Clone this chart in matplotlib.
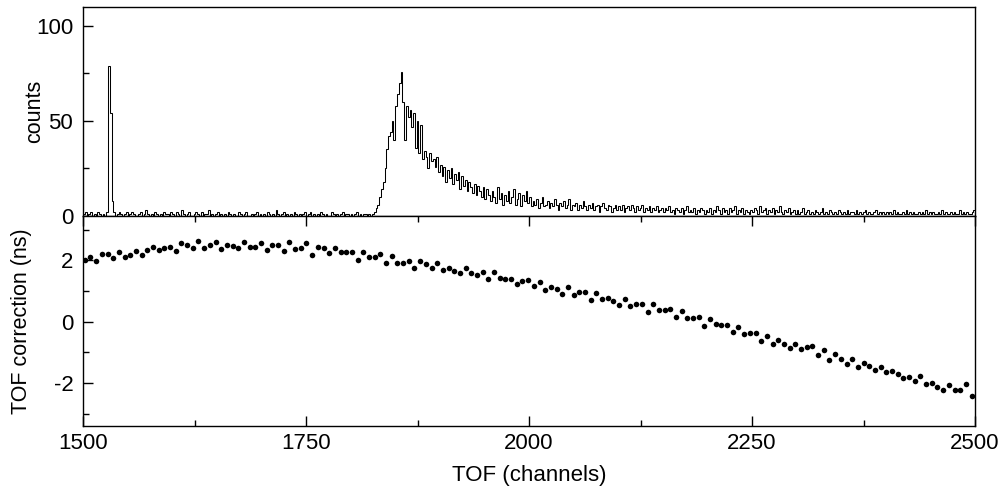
import numpy as np
import matplotlib
matplotlib.use("Agg")
import matplotlib.pyplot as plt
from matplotlib.ticker import MultipleLocator

plt.rcParams["font.family"] = ["Liberation Sans", "DejaVu Sans"]
plt.rcParams["font.size"] = 16
plt.rcParams["axes.unicode_minus"] = False

# TOF spectrum, 2-channel bins from 1500 to 2500 (25 bins per row = 50 channels)
bin_edges = np.arange(1500, 2502, 2)
counts = [
    1, 2, 0, 1, 2, 0, 1, 0, 2, 1, 0, 1, 0, 2, 79, 54, 8, 2, 0, 1, 2, 1, 0, 1, 2,
    0, 1, 2, 1, 0, 0, 1, 2, 0, 1, 3, 1, 0, 1, 0, 2, 1, 0, 1, 0, 2, 1, 1, 0, 2,
    1, 0, 2, 1, 0, 3, 1, 0, 1, 2, 0, 0, 1, 2, 1, 0, 2, 0, 1, 1, 3, 0, 1, 0, 1,
    2, 0, 1, 0, 1, 0, 2, 1, 0, 1, 0, 0, 2, 1, 0, 1, 2, 0, 0, 1, 0, 1, 2, 0, 1,
    0, 1, 0, 2, 1, 0, 1, 0, 3, 1, 0, 1, 2, 0, 1, 0, 1, 0, 2, 1, 0, 1, 0, 1, 2,
    0, 1, 2, 0, 1, 0, 1, 0, 2, 1, 0, 1, 0, 0, 2, 1, 0, 1, 0, 1, 2, 0, 1, 1, 0,
    1, 0, 1, 2, 0, 1, 0, 1, 1, 0, 1, 0, 1, 2, 4, 6, 10, 14, 18, 25, 35, 42, 44, 50, 40,
    58, 64, 70, 76, 60, 40, 58, 52, 56, 47, 54, 36, 50, 33, 48, 30, 34, 31, 25, 33, 29, 30, 26, 31, 23,
    27, 21, 26, 18, 24, 20, 25, 17, 22, 19, 23, 14, 21, 16, 19, 13, 18, 15, 12, 17, 11, 16, 13, 10, 15,
    9, 14, 11, 8, 13, 10, 7, 15, 9, 12, 6, 11, 8, 13, 7, 10, 14, 6, 9, 12, 5, 11, 8, 13, 7,
    10, 5, 8, 6, 9, 4, 7, 10, 5, 6, 8, 4, 7, 5, 9, 6, 3, 7, 5, 8, 4, 6, 9, 3, 6,
    5, 7, 3, 6, 4, 8, 5, 3, 6, 4, 7, 3, 5, 6, 2, 5, 7, 4, 3, 6, 5, 2, 4, 6, 3,
    5, 3, 6, 2, 4, 5, 3, 6, 4, 2, 5, 3, 4, 6, 2, 4, 3, 5, 2, 4, 3, 5, 2, 3, 4,
    2, 4, 3, 5, 2, 3, 1, 4, 3, 2, 4, 1, 3, 5, 2, 3, 2, 4, 1, 3, 2, 4, 3, 1, 3,
    2, 4, 1, 3, 2, 5, 3, 1, 4, 2, 3, 1, 4, 2, 3, 5, 1, 3, 2, 4, 1, 3, 2, 1, 3,
    2, 4, 3, 1, 5, 2, 3, 4, 1, 3, 2, 4, 1, 3, 2, 5, 2, 1, 3, 2, 4, 1, 2, 3, 1,
    3, 1, 2, 4, 1, 2, 3, 1, 2, 1, 3, 2, 1, 2, 4, 1, 2, 1, 3, 2, 1, 2, 1, 3, 2,
    1, 2, 1, 3, 1, 2, 2, 1, 3, 1, 2, 1, 2, 3, 1, 2, 1, 1, 2, 3, 1, 2, 1, 2, 1,
    2, 1, 2, 1, 3, 1, 2, 1, 1, 2, 1, 3, 1, 2, 1, 2, 1, 1, 2, 1, 2, 1, 3, 1, 2,
    1, 2, 1, 1, 2, 1, 3, 1, 2, 1, 1, 2, 1, 2, 1, 1, 3, 1, 2, 1, 2, 1, 1, 2, 3,
]

# TOF correction (ns), evenly spaced channels
tof_corr = [
    2.03, 2.11, 1.97, 2.20, 2.20, 2.09, 2.28, 2.11, 2.17, 2.31,
    2.17, 2.33, 2.44, 2.33, 2.39, 2.43, 2.31, 2.57, 2.50, 2.41,
    2.64, 2.42, 2.50, 2.61, 2.36, 2.50, 2.48, 2.39, 2.61, 2.44,
    2.44, 2.56, 2.33, 2.52, 2.50, 2.31, 2.61, 2.36, 2.39, 2.57,
    2.19, 2.44, 2.39, 2.24, 2.39, 2.28, 2.28, 2.28, 2.03, 2.26,
    2.10, 2.11, 2.21, 1.92, 2.13, 1.93, 1.93, 1.97, 1.76, 1.97,
    1.89, 1.76, 1.93, 1.69, 1.77, 1.66, 1.59, 1.74, 1.58, 1.51,
    1.63, 1.40, 1.61, 1.42, 1.39, 1.39, 1.23, 1.34, 1.37,
    1.17, 1.30, 1.02, 1.14, 1.06, 0.92, 1.13, 0.87, 0.98, 0.98,
    0.72, 0.94, 0.74, 0.77, 0.69, 0.56, 0.74, 0.51, 0.57, 0.58,
    0.33, 0.57, 0.37, 0.38, 0.41, 0.16, 0.34, 0.12, 0.12, 0.14,
    -0.13, 0.08, -0.06, -0.12, -0.10, -0.32, -0.16, -0.41, -0.37, -0.38,
    -0.62, -0.48, -0.71, -0.59, -0.72, -0.84, -0.74, -0.89, -0.81, -0.79,
    -1.08, -0.91, -1.26, -1.04, -1.23, -1.37, -1.23, -1.48, -1.34, -1.43,
    -1.58, -1.48, -1.64, -1.59, -1.70, -1.83, -1.80, -1.92, -1.77, -2.04,
    -2.01, -2.12, -2.22, -2.07, -2.21, -2.24, -2.04, -2.41,
]
tof_x = np.linspace(1502, 2496, len(tof_corr))

fig = plt.figure(figsize=(9.99, 4.88), dpi=100)
ax1 = fig.add_axes([0.0831, 0.5574, 0.893, 0.4283])
ax2 = fig.add_axes([0.0831, 0.1270, 0.893, 0.4304], sharex=ax1)

ax1.stairs(counts, bin_edges, color="black", lw=0.75)
ax1.set_ylim(0, 110)
ax1.set_xlim(1500, 2500)
ax1.yaxis.set_major_locator(MultipleLocator(50))
ax1.yaxis.set_minor_locator(MultipleLocator(25))
ax1.set_ylabel("counts", fontsize=15.5)
ax1.yaxis.set_label_coords(-0.042, 0.5)
ax1.tick_params(axis="x", which="both", bottom=False, labelbottom=False)
ax1.tick_params(axis="y", which="major", direction="in", length=7, width=1, pad=7)
ax1.tick_params(axis="y", which="minor", direction="in", length=4, width=1)

ax2.plot(tof_x, tof_corr, "o", color="black", ms=4.0, mec="none")
ax2.set_ylim(-3.4, 3.45)
ax2.yaxis.set_major_locator(MultipleLocator(2))
ax2.yaxis.set_minor_locator(MultipleLocator(1))
ax2.xaxis.set_major_locator(MultipleLocator(250))
ax2.xaxis.set_minor_locator(MultipleLocator(125))
ax2.set_ylabel("TOF correction (ns)", fontsize=15.5)
ax2.yaxis.set_label_coords(-0.057, 0.5)
ax2.set_xlabel("TOF (channels)", labelpad=8)
ax2.tick_params(which="both", direction="in", top=True, width=1)
ax2.tick_params(which="major", length=7)
ax2.tick_params(which="minor", length=4)
ax2.tick_params(axis="x", pad=5)
ax2.tick_params(axis="y", pad=7)

for ax in (ax1, ax2):
    for sp in ax.spines.values():
        sp.set_linewidth(1.0)

fig.savefig("out.png", dpi=100)
